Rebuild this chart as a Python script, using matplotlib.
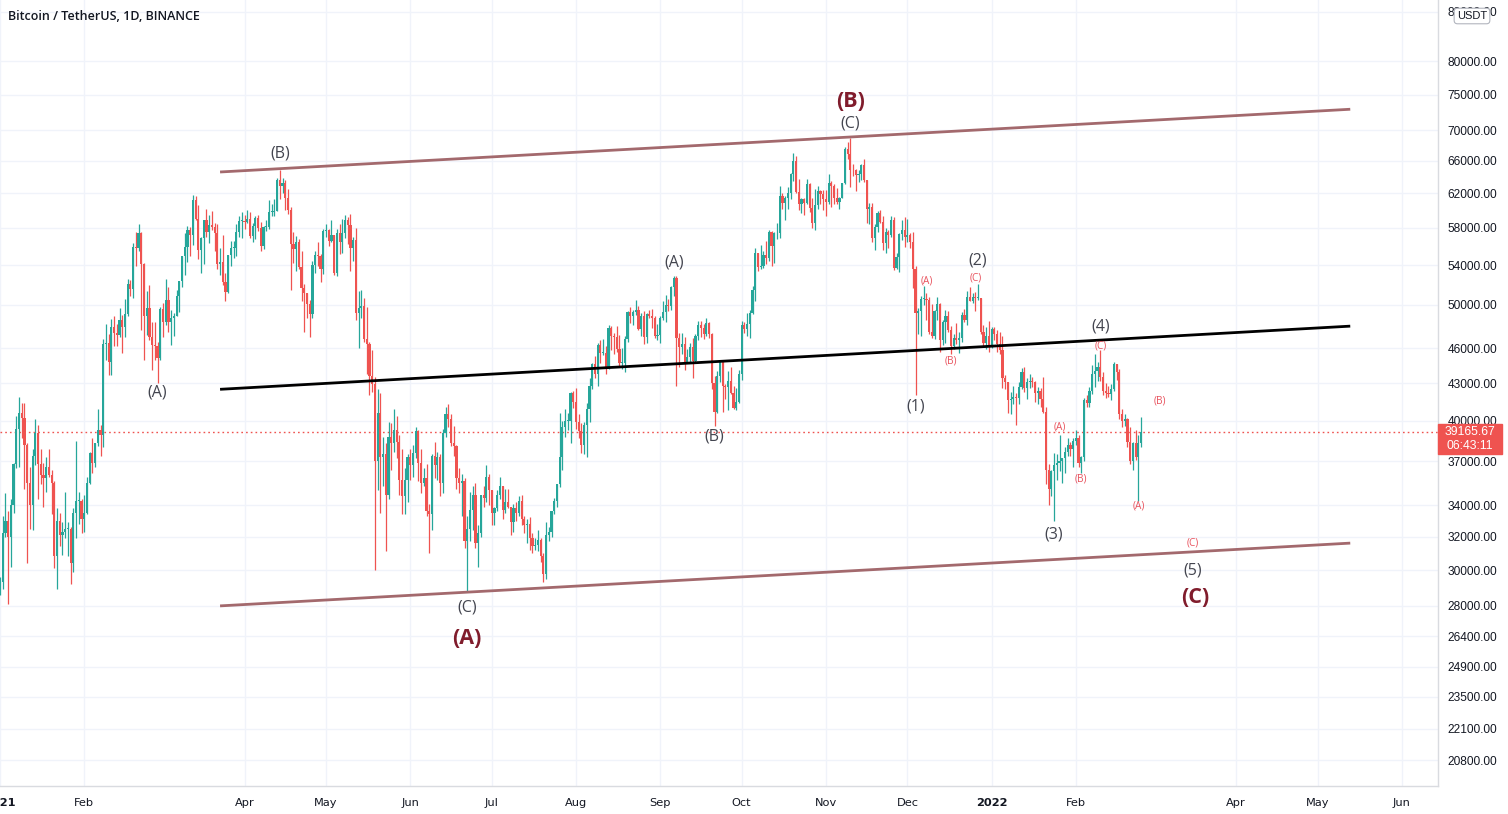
import numpy as np
import matplotlib
matplotlib.use('Agg')
import matplotlib.pyplot as plt
from matplotlib.patches import Rectangle
from matplotlib.ticker import NullLocator

# ---------------- data (prices in thousands USDT, daily from 2021-01-01) ----------------
first_open = 28.9
close_k = [
    # Jan 2021
    29.3,32.2,33.0,32.0,34.0,36.8,39.4,40.6,40.2,38.2,35.5,34.0,37.4,39.1,36.8,36.0,35.8,36.6,36.0,35.5,30.8,33.0,32.1,32.3,32.5,32.5,30.4,33.5,34.3,34.3,33.1,
    # Feb
    33.5,35.5,37.6,36.9,38.3,39.3,38.9,46.4,46.5,44.8,47.9,47.4,47.2,48.6,47.9,49.1,52.1,51.6,55.9,55.8,57.4,54.1,48.9,49.7,47.0,46.3,46.2,45.1,
    # Mar
    49.6,48.4,50.5,48.4,48.8,48.9,50.9,52.4,54.9,55.9,57.8,57.2,61.2,59.0,55.6,56.9,58.9,57.6,58.3,58.1,57.4,54.1,54.3,52.3,51.3,55.1,55.8,55.8,57.6,58.8,58.8,
    # Apr
    58.7,59.0,57.1,58.2,59.1,58.0,56.0,58.1,58.1,59.8,59.8,59.9,63.6,62.9,63.2,61.4,60.0,56.2,55.7,56.5,53.8,51.7,51.2,50.1,49.1,54.0,55.0,54.9,53.6,57.7,
    # May
    57.8,56.6,57.2,53.2,57.4,56.4,57.4,58.9,58.3,55.8,56.7,49.2,49.7,49.9,46.8,46.4,43.6,42.9,37.0,40.6,37.3,37.5,34.7,38.8,38.3,39.3,38.4,35.7,34.6,35.7,37.3,
    # Jun
    36.7,37.6,39.2,36.9,35.5,35.8,33.6,33.4,37.4,36.7,37.3,35.5,39.1,40.5,40.1,38.3,38.1,35.8,35.5,35.6,31.7,32.5,33.7,34.7,31.6,32.2,34.7,34.5,35.9,35.0,
    # Jul
    33.5,33.8,34.7,35.3,33.7,34.2,33.9,32.9,33.8,33.5,34.3,33.1,32.7,32.8,31.9,31.4,31.5,31.8,30.8,29.8,32.1,32.3,33.6,34.3,35.4,37.3,39.5,40.0,40.0,42.2,41.5,
    # Aug
    39.9,39.2,38.2,39.7,40.9,42.8,44.6,43.8,46.3,45.6,45.6,44.4,47.8,47.1,47.0,45.9,44.7,44.7,46.8,49.3,48.9,49.3,49.5,47.7,48.9,47.0,49.1,48.9,48.8,47.1,47.2,
    # Sep
    48.8,49.3,50.0,49.9,51.8,52.7,46.9,46.1,46.4,44.8,45.2,46.1,44.9,47.1,48.1,47.8,47.3,48.3,47.3,43.0,40.7,43.6,44.9,42.8,42.7,43.2,42.2,41.0,41.5,43.8,
    # Oct
    48.1,47.7,48.2,49.2,51.5,55.3,53.8,53.9,55.0,54.7,57.5,56.0,57.4,57.4,61.7,60.9,61.5,62.0,64.3,66.0,62.2,60.7,61.3,60.9,63.1,60.3,58.5,60.6,62.3,61.9,61.3,
    # Nov
    61.0,63.2,62.9,61.4,61.0,61.5,63.3,67.5,66.9,64.9,64.8,64.2,64.4,65.5,63.6,60.1,60.4,56.9,58.1,59.7,58.7,56.3,57.6,57.2,58.9,53.7,54.8,57.3,57.8,57.0,
    # Dec
    57.2,56.5,53.6,49.2,49.4,50.6,50.6,50.5,47.5,47.1,49.4,50.1,46.7,48.4,48.9,47.6,46.2,46.9,46.7,46.9,49.0,48.6,50.8,50.4,50.8,50.7,50.7,47.5,46.5,47.1,46.2,
    # Jan 2022
    47.7,47.3,46.4,45.8,43.4,43.1,41.6,41.7,41.9,41.8,42.7,43.9,42.6,43.1,43.2,43.1,42.2,42.4,41.7,40.7,36.4,35.1,36.3,36.7,36.9,37.0,37.2,37.7,38.2,37.9,38.5,
    # Feb 2022
    38.7,36.9,37.3,41.6,41.4,42.4,43.8,44.0,44.4,43.5,42.4,42.2,42.1,42.5,44.6,43.9,40.5,40.0,40.1,38.4,37.0,38.3,37.3,38.3,39.16567,
]
high_k = [
    29.6,33.3,34.8,33.6,34.4,36.9,40.4,41.9,41.4,41.4,38.3,36.6,37.9,40.1,39.7,37.9,36.9,37.3,37.9,36.4,35.6,33.8,33.5,32.9,34.9,32.9,32.6,33.8,38.5,34.9,34.4,
    34.7,35.9,37.7,38.7,38.3,40.9,39.7,46.8,48.2,47.3,48.7,48.9,48.2,49.7,49.0,50.6,52.6,52.5,56.3,57.5,58.4,57.5,54.2,51.4,52.0,48.4,48.4,46.6,
    49.8,50.2,52.6,51.8,49.5,49.2,51.5,52.4,54.9,57.4,58.2,58.1,61.8,61.7,60.6,57.0,58.9,60.1,59.5,59.9,58.6,58.4,55.8,57.2,53.2,55.1,56.6,56.6,58.4,59.4,59.8,
    59.5,60.0,59.8,58.5,59.3,59.5,58.7,58.2,58.9,61.2,60.7,61.3,63.8,64.9,63.8,63.6,62.5,60.4,57.5,57.1,56.8,55.5,52.1,51.2,50.5,54.4,55.5,56.4,55.2,57.9,
    58.4,57.9,58.9,57.2,57.9,58.4,59.0,59.5,59.2,59.6,57.0,58.0,51.4,51.5,50.7,49.8,46.6,45.8,43.5,42.5,42.2,38.8,38.3,39.9,39.8,40.9,40.4,38.9,37.9,36.5,37.5,
    37.9,38.2,39.5,39.3,37.9,36.5,36.8,34.1,37.5,38.4,37.7,37.5,39.4,41.1,41.3,40.5,39.6,38.2,36.5,36.1,35.8,33.3,34.9,35.3,35.5,32.7,34.7,35.3,36.7,36.1,
    35.0,33.9,35.0,35.9,35.3,35.1,35.1,33.9,34.1,34.2,34.6,34.7,33.3,33.1,33.2,32.2,31.9,32.4,31.9,31.0,32.9,32.6,33.6,34.5,35.4,40.6,40.0,40.9,40.6,42.3,42.4,
    42.6,40.5,39.8,39.9,41.4,43.4,44.7,45.3,46.5,46.7,46.8,46.2,48.1,48.0,47.4,48.0,47.2,46.0,47.1,49.4,49.8,49.5,50.5,49.9,49.2,49.4,49.2,49.5,49.6,48.9,48.2,
    48.9,50.4,51.0,50.6,51.9,52.9,52.9,47.4,47.4,47.0,45.9,46.5,46.9,47.3,48.5,48.5,48.2,48.8,48.4,47.4,43.6,44.0,45.0,45.0,42.9,44.0,44.4,42.8,42.6,44.1,
    48.5,48.4,49.2,49.5,51.9,55.8,55.3,56.1,55.5,56.6,57.8,57.7,57.6,58.5,62.9,62.0,61.7,62.7,64.5,67.0,66.6,63.7,61.5,61.5,63.7,63.3,61.5,62.5,62.9,62.4,62.4,
    62.4,64.3,63.5,63.1,62.6,61.6,63.3,67.8,68.5,69.0,65.6,65.0,64.9,65.6,66.3,63.6,60.8,60.9,58.4,59.9,60.0,59.3,58.0,57.8,59.4,59.2,55.3,57.4,58.9,59.2,
    59.0,57.4,57.6,53.9,49.7,50.9,51.9,51.2,50.8,50.1,49.5,50.8,50.2,48.6,49.5,49.4,48.0,47.3,48.3,47.5,49.3,49.6,51.4,51.8,51.2,51.3,52.1,50.7,48.1,47.9,48.5,
    47.9,47.9,47.6,47.5,47.1,43.7,43.1,42.3,42.8,42.2,43.1,44.3,44.4,43.4,43.8,43.5,43.2,42.7,42.6,43.5,41.1,36.8,36.4,37.6,37.5,38.9,37.2,38.0,38.7,38.4,38.7,
    39.3,38.9,37.4,41.8,42.0,42.7,44.5,45.5,44.8,45.8,43.9,43.0,42.8,42.9,44.8,44.6,44.2,40.9,40.5,40.2,39.5,38.4,39.3,38.9,40.3,
]
low_k = [
    28.6,28.9,32.0,28.1,30.2,33.5,36.5,36.6,38.7,35.1,30.4,32.5,32.4,36.7,34.4,35.4,33.9,34.9,35.9,33.4,30.1,28.9,31.4,30.9,31.9,30.8,29.2,29.9,31.9,32.8,32.2,
    32.3,33.4,35.4,36.2,36.6,38.1,37.4,38.0,45.0,43.7,43.7,46.2,46.2,47.0,45.6,47.0,48.9,50.9,50.7,53.9,55.5,47.6,45.0,47.2,46.7,44.1,45.0,43.0,
    45.0,47.0,48.1,47.5,46.3,47.1,48.9,49.3,51.8,53.0,54.3,54.9,56.1,58.9,54.6,53.2,54.1,57.0,56.3,57.8,55.5,53.6,53.0,52.0,50.4,51.2,53.9,54.7,54.9,57.0,56.9,
    57.9,58.5,56.9,56.5,56.8,57.7,55.5,55.7,57.7,57.9,59.3,59.4,59.9,61.3,62.0,60.0,59.6,51.5,54.2,53.4,53.6,50.4,47.5,48.8,47.0,48.8,53.2,53.9,52.3,53.1,
    57.0,56.0,56.5,53.0,52.9,55.2,55.3,56.9,56.2,53.4,54.4,48.6,46.0,48.8,46.6,43.8,42.0,42.3,30.0,35.0,33.5,35.3,31.1,34.4,36.4,37.7,37.2,34.7,33.4,33.4,34.2,
    35.7,35.9,37.2,35.6,34.8,35.3,33.3,31.0,32.4,35.8,35.7,34.6,34.8,38.8,39.5,38.1,37.4,35.1,34.8,33.3,31.3,28.8,31.7,32.4,31.3,30.2,32.0,33.9,34.2,34.0,
    32.7,32.7,33.6,34.4,33.1,33.5,33.8,32.1,32.3,33.0,33.3,32.7,32.2,31.6,31.2,31.0,31.2,31.1,30.5,29.3,29.5,31.7,32.0,33.4,33.9,35.2,36.4,38.8,39.3,38.3,41.0,
    39.4,38.7,37.6,37.5,37.3,39.9,42.5,43.4,42.8,44.7,45.4,43.8,44.2,45.8,45.5,45.7,44.4,44.2,43.9,46.6,48.3,48.1,49.0,47.6,47.1,46.4,46.5,48.8,47.8,46.9,46.7,
    46.5,48.6,48.4,49.4,49.5,50.9,42.8,44.4,45.5,44.1,44.8,44.7,43.4,44.7,46.7,47.0,46.8,47.1,46.9,42.5,39.6,40.6,43.1,40.7,41.7,40.8,42.1,40.9,40.8,41.4,
    43.3,47.4,47.1,46.9,49.1,50.4,53.4,53.6,53.7,54.1,54.4,53.9,54.2,56.8,56.9,60.1,58.9,60.2,61.3,63.5,62.0,60.0,59.7,59.5,60.7,59.8,58.0,57.8,60.2,60.7,60.0,
    59.4,60.7,60.4,60.7,60.7,60.1,61.4,63.1,66.2,62.8,64.1,62.3,63.4,63.6,63.4,58.6,58.4,56.5,55.6,57.5,58.5,55.6,55.3,55.8,57.0,53.5,53.6,53.3,56.7,55.9,
    56.5,55.8,51.7,42.0,47.3,47.1,50.0,48.6,47.3,46.9,46.8,48.6,45.7,46.3,46.5,47.5,45.5,45.9,46.4,45.6,46.6,48.4,48.1,50.4,50.2,49.4,50.5,47.3,46.1,45.9,45.7,
    46.0,46.7,45.7,45.5,42.6,42.5,40.6,40.5,41.3,39.7,41.3,42.5,42.3,41.7,42.6,42.7,41.5,41.3,41.1,40.6,35.4,34.0,34.6,33.0,35.7,36.3,35.5,36.2,37.4,37.4,36.6,
    38.2,36.6,36.2,37.0,41.1,41.1,42.1,42.7,43.2,43.2,42.0,41.8,41.9,41.6,42.4,43.3,40.1,39.5,39.6,38.0,36.8,36.4,37.1,34.3,38.0,
]

last_price = 39165.67
price_ticks = [88000, 80000, 75000, 70000, 66000, 62000, 58000, 54000, 50000, 46000, 43000,
               40000, 37000, 34000, 32000, 30000, 28000, 26400, 24900, 23500, 22100, 20800]
month_dates = ['2021-01-01', '2021-02-01', '2021-04-01', '2021-05-01', '2021-06-01', '2021-07-01',
               '2021-08-01', '2021-09-01', '2021-10-01', '2021-11-01', '2021-12-01', '2022-01-01',
               '2022-02-01', '2022-04-01', '2022-05-01', '2022-06-01']
month_labels = ['2021', 'Feb', 'Apr', 'May', 'Jun', 'Jul', 'Aug', 'Sep', 'Oct', 'Nov', 'Dec', '2022',
                'Feb', 'Apr', 'May', 'Jun']

# channel / trend lines: (start date, start price, end date, end price)
channel_upper = ('2021-03-23', 64600, '2022-05-13', 72900)
channel_mid = ('2021-03-23', 42500, '2022-05-13', 48000)
channel_lower = ('2021-03-23', 28000, '2022-05-13', 31600)

# wave labels: (text, date, price)
gray_labels = [('(A)', '2021-02-28', 42200), ('(B)', '2021-04-14', 67000), ('(C)', '2021-06-22', 27940),
               ('(A)', '2021-09-06', 54300), ('(B)', '2021-09-21', 38830), ('(C)', '2021-11-10', 70860),
               ('(1)', '2021-12-04', 41150), ('(2)', '2021-12-27', 54520), ('(3)', '2022-01-24', 32150),
               ('(4)', '2022-02-10', 48010), ('(5)', '2022-03-16', 30000)]
bold_labels = [('(A)', '2021-06-22', 26270), ('(B)', '2021-11-10', 74060), ('(C)', '2022-03-17', 28430)]
small_labels = [('(A)', '2021-12-08', 52350), ('(C)', '2021-12-26', 52660), ('(B)', '2021-12-17', 44880),
                ('(C)', '2022-02-10', 46190), ('(A)', '2022-01-26', 39520), ('(B)', '2022-02-03', 35750),
                ('(A)', '2022-02-24', 33940), ('(B)', '2022-03-04', 41550), ('(C)', '2022-03-16', 31600)]

# ---------------- drawing ----------------
start = np.datetime64('2021-01-01')
def dnum(s):
    return float((np.datetime64(s) - start).astype(int))

c = np.array(close_k) * 1000
h = np.array(high_k) * 1000
l = np.array(low_k) * 1000
o = np.concatenate([[first_open * 1000], c[:-1]])
h = np.maximum(h, np.maximum(o, c))
l = np.minimum(l, np.minimum(o, c))
x = np.arange(len(c))

UP, DN = '#26a69a', '#ef5350'
cols = np.where(c >= o, UP, DN)

W, H = 1508, 814
fig = plt.figure(figsize=(W / 100, H / 100), dpi=100)
fig.patch.set_facecolor('white')
ax = fig.add_axes([0, 28 / H, 1438 / W, 786 / H])
ax.set_yscale('log')
ax.set_xlim(0, 529.3)
ax.set_ylim(19790, 89980)

ax.vlines(x, l, h, colors=cols, linewidth=0.9, zorder=3)
body_bottom = np.minimum(o, c)
body_h = np.maximum(np.abs(c - o), c * 0.0015)
ax.bar(x, body_h, bottom=body_bottom, width=0.8, color=cols, linewidth=0, zorder=4)

# lines
for (d0, p0, d1, p1), col in [(channel_upper, '#a3696d'), (channel_mid, '#000000'), (channel_lower, '#a3696d')]:
    ax.plot([dnum(d0), dnum(d1)], [p0, p1], color=col, lw=2.0, solid_capstyle='butt', zorder=5)

ax.axhline(last_price, color='#ef5350', lw=1.0, ls=(0, (1.2, 2.2)), zorder=2)

for t, d, p in gray_labels:
    ax.text(dnum(d), p, t, ha='center', va='center', fontsize=11.5, color='#43454f',
            family='Open Sans', zorder=6)
for t, d, p in bold_labels:
    ax.text(dnum(d), p, t, ha='center', va='center', fontsize=15.5, color='#801c2c',
            family='Open Sans', fontweight='bold', zorder=6)
for t, d, p in small_labels:
    ax.text(dnum(d), p, t, ha='center', va='center', fontsize=7.2, color='#e8525d',
            family='Open Sans', zorder=6)

# axes styling
ax.yaxis.tick_right()
ax.yaxis.set_minor_locator(NullLocator())
ax.set_yticks(price_ticks)
ax.set_yticklabels(['%.2f' % v for v in price_ticks], family='Liberation Sans')
ax.xaxis.set_minor_locator(NullLocator())
ax.set_xticks([dnum(d) for d in month_dates])
ax.set_xticklabels(month_labels)
for lab in ax.get_xticklabels():
    if lab.get_text() in ('2021', '2022'):
        lab.set_fontweight('bold')
ax.tick_params(axis='y', length=0, pad=7, labelsize=8.6, labelcolor='#131722')
ax.tick_params(axis='x', length=0, pad=9, labelsize=8.2, labelcolor='#131722')
ax.grid(True, color='#f0f3fa', lw=1.0)
ax.set_axisbelow(True)
for s in ('left', 'top'):
    ax.spines[s].set_visible(False)
for s in ('right', 'bottom'):
    ax.spines[s].set_color('#d9dbe0')
    ax.spines[s].set_linewidth(1.0)

# title
fig.text(8 / W, 1 - 16 / H, 'Bitcoin / TetherUS, 1D, BINANCE', ha='left', va='center',
         fontsize=9.0, color='#131722', family='Open Sans', fontweight='semibold')

# USDT badge
fig.text(1472 / W, 1 - 16 / H, 'USDT', ha='center', va='center', fontsize=8.0, color='#131722',
         family='Liberation Sans',
         bbox=dict(boxstyle='round,pad=0.25,rounding_size=0.3', fc='white', ec='#b2b5be', lw=0.8), zorder=10)

# last price box
fig.canvas.draw()
ypx = ax.transData.transform((0, last_price))[1]
box_top = ypx + 8
box = Rectangle((1438 / W, (box_top - 30) / H), 64 / W, 30 / H, transform=fig.transFigure,
                color='#ef5350', zorder=10)
fig.add_artist(box)
fig.text(1470 / W, (box_top - 8) / H, '%.2f' % last_price, ha='center', va='center',
         fontsize=8.8, color='white', family='Liberation Sans', zorder=11)
fig.text(1470 / W, (box_top - 22.5) / H, '06:43:11', ha='center', va='center',
         fontsize=8.8, color='white', family='Liberation Sans', zorder=11)

fig.savefig('out.png', dpi=100, facecolor='white')
